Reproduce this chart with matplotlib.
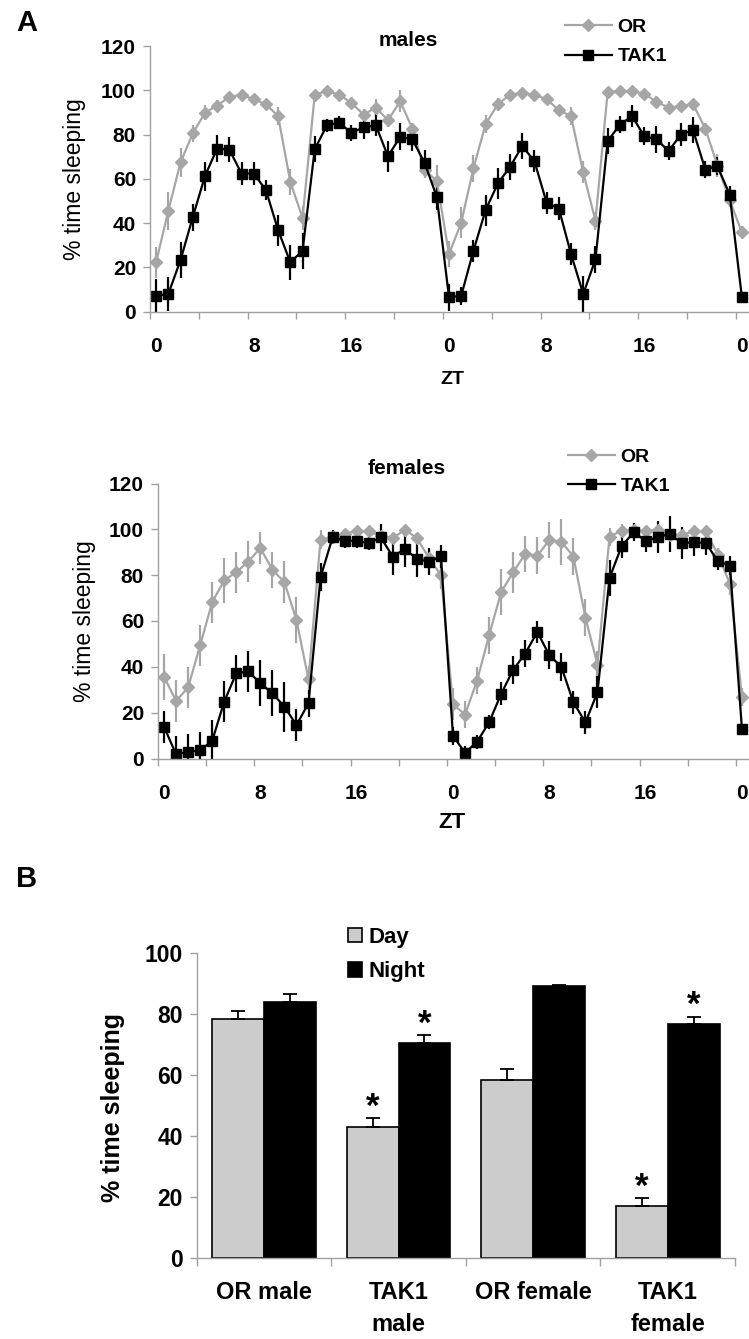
import matplotlib
matplotlib.use("Agg")
import matplotlib.pyplot as plt
import numpy as np

plt.rcParams['font.family'] = ['Liberation Sans', 'DejaVu Sans']

W, H = 749, 1339          # output size in pixels
GRAY = "#a6a6a6"
AXIS_GRAY = "#a0a0a0"

# ---------------- data ----------------
hours = np.arange(49)                      # ZT, hourly over two days
zt_ticks = [0, 8, 16, 24, 32, 40, 48]
zt_labels = ["0", "8", "16", "0", "8", "16", "0"]

male_or = [22.3, 45.6, 67.4, 80.5, 89.8, 93.1, 97.0, 98.0, 96.0, 93.7, 88.3, 58.5,
           42.4, 98.0, 99.7, 98.0, 94.3, 89.0, 92.2, 86.5, 95.0, 82.7, 63.9, 59.1,
           26.0, 40.2, 64.7, 84.7, 93.7, 98.0, 98.8, 98.0, 96.0, 91.0, 88.3, 62.9,
           41.1, 99.3, 99.6, 99.6, 98.5, 94.8, 92.2, 92.8, 93.7, 82.7, 66.0, 50.4, 35.8]
male_or_err = [7, 8.5, 6.5, 3.8, 3.4, 2.3, 1.5, 1.5, 1.5, 2, 4, 6,
               5.5, 1.5, 1.5, 1.5, 1.5, 2.6, 3.7, 3, 5, 2.3, 3.7, 7,
               6, 7, 6, 4, 3, 1.5, 1.5, 1.5, 2, 2, 4, 5,
               4, 1.5, 1.5, 1.5, 1.5, 2.5, 3, 2.5, 2.5, 2.5, 5, 3, 3]
male_tak1 = [7.2, 8.0, 23.3, 42.6, 61.2, 73.7, 73.2, 62.4, 62.4, 54.9, 36.8, 22.3,
             27.5, 73.4, 84.2, 85.3, 80.8, 83.2, 84.2, 70.2, 79.0, 77.8, 67.2, 51.9,
             6.5, 7.2, 27.5, 45.9, 57.9, 65.4, 74.8, 68.0, 49.2, 46.6, 26.0, 8.0,
             23.6, 77.0, 84.5, 88.3, 79.3, 77.8, 72.6, 80.0, 82.0, 64.2, 65.7, 52.9, 6.5]
male_tak1_err = [7.5, 7.5, 8, 6, 6.5, 6, 5.5, 5, 5, 4.5, 7, 8,
                 8, 6, 3, 3, 3.5, 5, 5, 7, 6, 5, 6, 6,
                 6, 4, 5, 7, 7, 6, 6, 5, 5, 5, 5, 8,
                 6, 6, 4, 5, 4, 6, 4, 5, 6, 4, 4, 4, 2]

female_or = [35.7, 25.1, 31.0, 49.4, 68.2, 77.7, 81.3, 85.9, 91.9, 82.3, 77.0, 60.3,
             34.5, 95.5, 96.5, 98.0, 99.4, 99.1, 97.2, 96.2, 99.8, 96.2, 87.5, 80.0,
             23.6, 19.2, 34.0, 53.8, 72.6, 81.3, 89.3, 88.5, 95.3, 94.6, 88.1, 61.4,
             41.0, 96.8, 99.4, 99.5, 99.4, 99.6, 97.7, 97.7, 99.1, 99.1, 89.0, 76.2, 26.7]
female_or_err = [10, 9, 9, 9, 9, 10, 9, 9, 7, 8, 9, 10,
                 6, 4, 3, 2, 2, 2, 2, 2, 2, 2, 3, 6,
                 7, 6, 6, 8, 10, 9, 8, 8, 8, 10, 8, 8,
                 6, 4, 3, 2, 2, 2, 2, 2, 2, 2, 3, 5, 4]
female_tak1 = [13.9, 1.8, 2.9, 3.6, 7.7, 24.8, 37.2, 38.0, 32.8, 28.5, 22.6, 14.6,
               24.1, 79.1, 96.5, 95.0, 95.0, 94.0, 96.5, 88.1, 91.4, 87.1, 85.9, 88.2,
               9.9, 2.5, 7.3, 15.8, 28.2, 38.7, 45.8, 55.2, 45.1, 40.0, 24.5, 15.8,
               28.9, 78.8, 92.6, 98.7, 95.0, 96.5, 98.0, 94.0, 94.3, 94.0, 86.1, 84.2, 12.7]
female_tak1_err = [7, 8, 8, 8, 9, 9, 8, 9, 10, 10, 11, 7,
                   6, 6, 3, 3, 3, 3, 6, 8, 8, 8, 6, 5,
                   4, 3, 3, 3, 5, 6, 6, 5, 6, 6, 5, 5,
                   7, 8, 5, 4, 5, 7, 8, 7, 6, 5, 4, 4, 2]

groups = ["OR male", "TAK1\nmale", "OR female", "TAK1\nfemale"]
day_vals = [78.5, 42.9, 58.4, 17.1]
day_err = [2.6, 3.1, 3.6, 2.6]
night_vals = [84.1, 70.7, 89.2, 76.8]
night_err = [2.5, 2.4, 0.5, 2.4]
day_signif = [False, True, False, True]
night_signif = [False, True, False, True]


def fx(px):
    return px / W


def fy(py):
    return 1 - py / H


def axes_px(left, top, right, bottom):
    return [fx(left), fy(bottom), (right - left) / W, (bottom - top) / H]


def style_axes(ax, label_size):
    for side in ("top", "right"):
        ax.spines[side].set_visible(False)
    for side in ("left", "bottom"):
        ax.spines[side].set_color(AXIS_GRAY)
        ax.spines[side].set_linewidth(1.0)
    ax.tick_params(axis="y", which="both", direction="out", length=5,
                   color=AXIS_GRAY, width=1.0, labelsize=label_size, pad=5)
    for t in ax.get_yticklabels() + ax.get_xticklabels():
        t.set_fontweight("bold")


def line_panel(ax, or_vals, or_err, tak_vals, tak_err, legend_xy):
    c_or = ax.errorbar(hours, or_vals, yerr=or_err, color=GRAY, ecolor=GRAY, lw=1.6,
                       elinewidth=1.6, marker="D", ms=6, mec=GRAY, capsize=0)
    c_tak = ax.errorbar(hours, tak_vals, yerr=tak_err, color="black", ecolor="black", lw=1.6,
                        elinewidth=1.6, marker="s", ms=7, capsize=0)
    ax.set_xlim(-0.5, 48.5)
    ax.set_ylim(0, 120)
    ax.set_yticks(range(0, 121, 20))
    ax.set_xticks(zt_ticks)
    ax.set_xticklabels(zt_labels)
    ax.set_xticks(np.arange(-0.5, 48.6, 4), minor=True)
    ax.tick_params(axis="x", which="major", length=0, labelsize=15, pad=18)
    ax.tick_params(axis="x", which="minor", direction="out", length=5,
                   color=AXIS_GRAY, width=1.0)
    style_axes(ax, 15)
    # legend shows only the line + marker, not the error bars
    ax.legend(handles=[c_or.lines[0], c_tak.lines[0]], labels=["OR", "TAK1"],
              loc="center left", bbox_to_anchor=(fx(legend_xy[0]), fy(legend_xy[1])),
              bbox_transform=fig.transFigure, frameon=False, borderpad=0,
              borderaxespad=0, handlelength=2.4, handletextpad=0.3,
              labelspacing=0.6, numpoints=1, prop={"weight": "bold", "size": 14})


fig = plt.figure(figsize=(W / 100, H / 100), dpi=100)

# ---------------- A: males ----------------
ax1 = fig.add_axes(axes_px(150, 46, 748, 311.7))
line_panel(ax1, male_or, male_or_err, male_tak1, male_tak1_err, (565, 42))
fig.text(fx(408), fy(40), "males", ha="center", va="center", fontsize=15, fontweight="bold")
fig.text(fx(452), fy(380), "ZT", ha="center", va="center", fontsize=14, fontweight="bold")
fig.text(fx(75), fy(179), "% time sleeping", rotation=90, ha="center", va="center", fontsize=16.5)

# ---------------- A: females ----------------
ax2 = fig.add_axes(axes_px(158, 483.5, 748, 758.5))
line_panel(ax2, female_or, female_or_err, female_tak1, female_tak1_err, (568, 471.5))
fig.text(fx(407), fy(469), "females", ha="center", va="center", fontsize=15, fontweight="bold")
fig.text(fx(452), fy(822), "ZT", ha="center", va="center", fontsize=16, fontweight="bold")
fig.text(fx(84), fy(621), "% time sleeping", rotation=90, ha="center", va="center", fontsize=16.5)

fig.text(fx(27), fy(23), "A", ha="center", va="center", fontsize=21, fontweight="bold")

# ---------------- B: day / night bars ----------------
ax3 = fig.add_axes(axes_px(196.7, 953.3, 735, 1258.3))
pos = np.arange(len(groups))
bw = 0.385
ax3.bar(pos - bw / 2, day_vals, bw, color="#cccccc", edgecolor="black", lw=1.2,
        yerr=[np.zeros(4), day_err], ecolor="black", capsize=5,
        error_kw={"elinewidth": 1.3, "capthick": 1.3}, label="Day")
ax3.bar(pos + bw / 2, night_vals, bw, color="black", edgecolor="black", lw=1.2,
        yerr=[np.zeros(4), night_err], ecolor="black", capsize=5,
        error_kw={"elinewidth": 1.3, "capthick": 1.3}, label="Night")
for i in range(len(groups)):
    if day_signif[i]:
        ax3.text(pos[i] - bw / 2, day_vals[i] + day_err[i] + 0.5, "*", ha="center",
                 va="baseline", fontsize=25, fontweight="bold")
    if night_signif[i]:
        ax3.text(pos[i] + bw / 2, night_vals[i] + night_err[i] + 0.5, "*", ha="center",
                 va="baseline", fontsize=25, fontweight="bold")
ax3.set_xlim(-0.5, 3.5)
ax3.set_ylim(0, 100)
ax3.set_yticks(range(0, 101, 20))
ax3.set_xticks(pos)
ax3.set_xticklabels(groups, linespacing=1.5)
ax3.set_xticks(np.arange(-0.5, 3.6, 1), minor=True)
ax3.tick_params(axis="x", which="major", length=0, labelsize=17, pad=16)
ax3.tick_params(axis="x", which="minor", direction="out", length=6,
                color=AXIS_GRAY, width=1.0)
style_axes(ax3, 16.5)
ax3.legend(loc="center left", bbox_to_anchor=(fx(348), fy(954.5)), bbox_transform=fig.transFigure,
           frameon=False, borderpad=0, borderaxespad=0, handlelength=0.63, handleheight=0.63,
           handletextpad=0.3, labelspacing=0.6, prop={"weight": "bold", "size": 16})
fig.text(fx(113), fy(1107), "% time sleeping", rotation=90, ha="center", va="center",
         fontsize=18, fontweight="bold")
fig.text(fx(27), fy(879), "B", ha="center", va="center", fontsize=21, fontweight="bold")

fig.savefig("out.png", dpi=100)
plt.close(fig)
